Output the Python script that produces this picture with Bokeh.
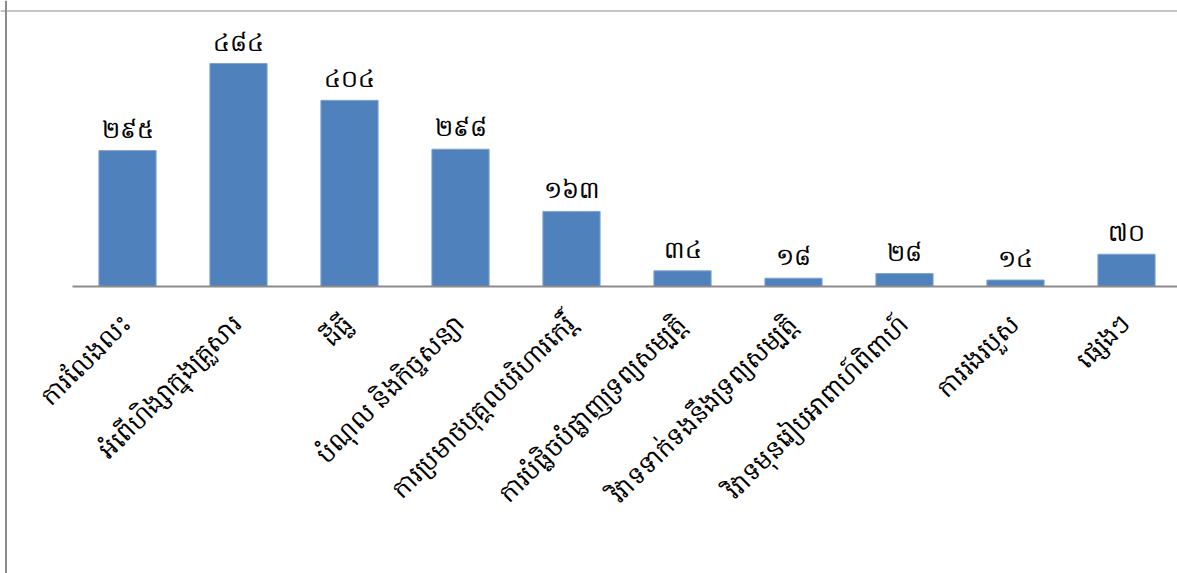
import math
from bokeh.plotting import figure
from bokeh.models import ColumnDataSource, Span
from bokeh.core.properties import value
from bokeh.embed import file_html
from bokeh.resources import INLINE

categories = [
    "ការលែងលះ",
    "អំពើហិង្សាក្នុងគ្រួសារ",
    "ដីធ្លី",
    "បំណុល និងកិច្ចសន្យា",
    "ការប្រមាថបុគ្គលបរិហារកេរ្តិ៍",
    "ការបំផ្លិចបំផ្លាញទ្រព្យសម្បត្តិ",
    "វិវាទទាក់ទងនឹងទ្រព្យសម្បត្តិ",
    "វិវាទមុនរៀបអាពាហ៍ពិពាហ៍",
    "ការរងរបួស",
    "ផ្សេងៗ",
]
values = [295, 484, 404, 298, 163, 34, 18, 28, 14, 70]
value_labels = ["២៩៥", "៤៨៤", "៤០៤", "២៩៨", "១៦៣", "៣៤", "១៨", "២៨", "១៤", "៧០"]

W, H = 1177, 573
step_px = 111.0
first_center_px = 127.0
baseline_px = 286.0
px_per_unit = 223.0 / 484.0

x0 = -first_center_px / step_px
x1 = x0 + W / step_px
y1 = baseline_px / px_per_unit
y0 = -(H - baseline_px) / px_per_unit

idx = list(range(len(categories)))
src = ColumnDataSource(dict(x=idx, top=values, cat=categories, lab=value_labels,
                            zero=[0] * len(idx)))

p = figure(width=W, height=H, x_range=(x0, x1), y_range=(y0, y1),
           output_backend="svg", toolbar_location=None,
           min_border_left=0, min_border_right=0, min_border_top=0, min_border_bottom=0)
p.axis.visible = False
p.grid.visible = False
p.outline_line_color = None
p.background_fill_color = "white"
p.border_fill_color = "white"

# outer chart border (top and left)
p.add_layout(Span(location=x0 + 5.5 / step_px, dimension="height",
                  line_color="#8c8c8c", line_width=2))
p.add_layout(Span(location=y1 - 10.5 / px_per_unit, dimension="width",
                  line_color="#8c8c8c", line_width=1.2))

p.vbar(x="x", top="top", bottom=0, width=0.515, source=src,
       fill_color="#4F81BD", line_color="#7FA3D0", line_width=1)

# baseline (category axis)
p.segment(x0=[x0 + 72 / step_px], y0=[0], x1=[x1], y1=[0],
          line_color="#8c8c8c", line_width=2)

font = value("Noto Sans")
p.text(x="x", y="top", text="lab", source=src, text_align="center",
       text_baseline="bottom", y_offset=-6, text_font=font,
       text_font_size="24px", text_color="#000000")

p.text(x="x", y="zero", text="cat", source=src, text_align="right",
       text_baseline="middle", angle=math.pi / 4, x_offset=-2, y_offset=32,
       text_font=font, text_font_size="25px", text_color="#000000")

open("out.html", "w").write(file_html(p, INLINE))
